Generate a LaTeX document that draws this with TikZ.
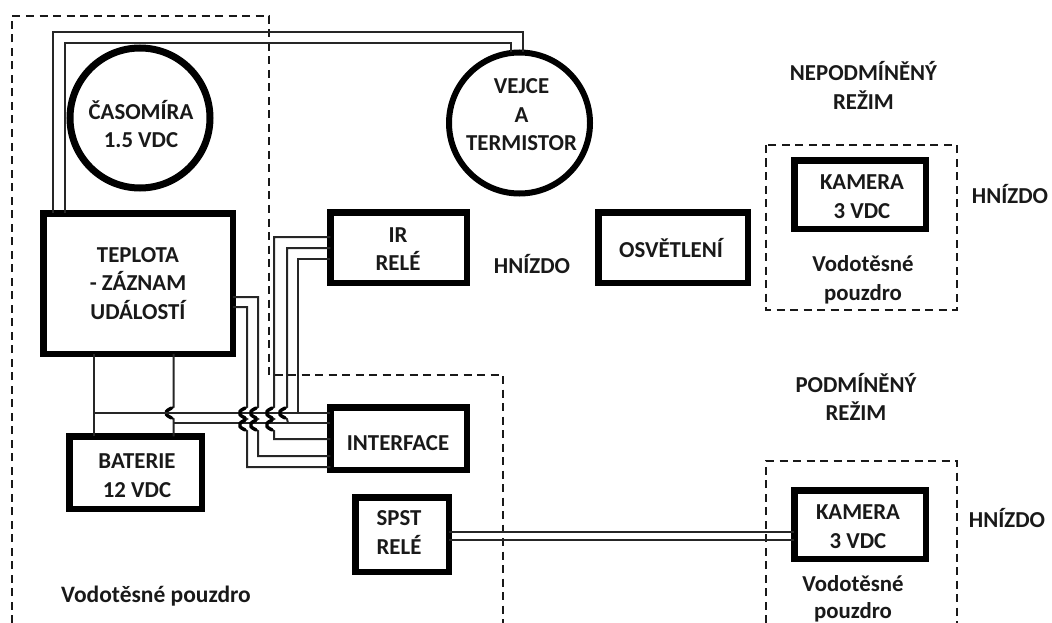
\documentclass[tikz,border=0pt]{standalone}
\usepackage{fontspec}
\setmainfont{Carlito}
\newcommand{\wirehop}[2]{.. controls (#1-1,#2-4) and (#1-9,#2-4) .. (#1-7,#2) .. controls (#1-9,#2+4) and (#1-1,#2+4) .. (#1,#2+6)}
\newcommand{\hopmark}[2]{\draw[hopthick] (#1-2,#2-5) .. controls (#1-4,#2-4) and (#1-8,#2-2) .. (#1-7,#2) .. controls (#1-8,#2+2) and (#1-4,#2+4) .. (#1-2,#2+5);}
\tikzset{
  lbl/.style={font=\fontsize{22.8}{28.5}\selectfont\bfseries,align=center,text=black!90,inner sep=0pt},
  boxn/.style={draw=black,line width=6.5pt,inner sep=0pt,outer sep=0pt,fill=none,lbl},
  circn/.style={circle,draw=black,line width=7pt,inner sep=0pt,outer sep=0pt,lbl},
  wire/.style={draw=black!85,line width=2pt,line join=miter},
  hopthick/.style={draw=black,line width=3.4pt,line cap=round},
  dashbox/.style={draw=black!90,line width=2.5pt,dash pattern=on 8pt off 5.5pt}
}
\begin{document}
\begin{tikzpicture}[x=1pt,y=-1pt]
\useasboundingbox (0,0) rectangle (1052,623);
\clip (0,0) rectangle (1052,623);
% dashed enclosures
\draw[dashbox] (12,623) -- (12,16) -- (269,16) -- (269,375) -- (503,375) -- (503,623);
\draw[dashbox] (766,145) rectangle (957,310);
\draw[dashbox] (766,623) -- (766,461) -- (957,461) -- (957,623);
% shapes
\node[circn,minimum size=140pt] (cas) at (140,118) {};
\node[circn,minimum size=141pt,line width=6pt] (vejce) at (519.5,123) {};
\node[boxn,minimum width=189.5pt,minimum height=140.5pt] (tep) at (138,283.5) {TEPLOTA\\- ZÁZNAM\\UDÁLOSTÍ};
\node[boxn,minimum width=132.5pt,minimum height=72.5pt] (bat) at (135.5,472.5) {};
\node[boxn,minimum width=136.5pt,minimum height=70.5pt] (ir) at (398.5,247.5) {};
\node[boxn,minimum width=136.5pt,minimum height=62.5pt] (int) at (398.5,438.5) {};
\node[boxn,minimum width=93.5pt,minimum height=74.5pt] (spst) at (402,534.5) {};
\node[boxn,minimum width=149.5pt,minimum height=70.5pt] (osv) at (673,247.5) {};
\node[boxn,minimum width=131.5pt,minimum height=68.5pt] (kam1) at (860,194.5) {};
\node[boxn,minimum width=131.5pt,minimum height=68.5pt] (kam2) at (860,524.5) {};
% labels
\node[lbl] (lcas) at (141,124) {ČASOMÍRA\\1.5 VDC};
\node[lbl] (lvejce) at (521.5,115) {VEJCE\\A\\TERMISTOR};
\node[lbl] (lbat) at (137,475.5) {BATERIE\\12 VDC};
\node[lbl] (lir) at (398,249) {IR\\RELÉ};
\node[lbl] (lint) at (398,443) {INTERFACE};
\node[lbl] (lspst) at (399,532.5) {SPST\\RELÉ};
\node[lbl] (losv) at (671,248) {OSVĚTLENÍ};
\node[lbl] (lkam1) at (862,196.5) {KAMERA\\3 VDC};
\node[lbl] (lkam2) at (858,526.5) {KAMERA\\3 VDC};
\node[lbl] (t1) at (863.5,85.5) {NEPODMÍNĚNÝ\\REŽIM};
\node[lbl] (t2) at (856,397) {PODMÍNĚNÝ\\REŽIM};
\node[lbl] (t3) at (532,264) {HNÍZDO};
\node[lbl] (t4) at (1010,194) {HNÍZDO};
\node[lbl] (t5) at (1007,518) {HNÍZDO};
\node[lbl] (t6) at (863,280) {Vodotěsné\\pouzdro};
\node[lbl,font=\fontsize{22.8}{27}\selectfont\bfseries] (t7) at (853,599) {Vodotěsné\\pouzdro};
\node[lbl,font=\fontsize{23.5}{28.5}\selectfont\bfseries] (t8) at (156,596) {Vodotěsné pouzdro};
% junction coordinates
\coordinate (a) at (53,32);
\coordinate (b) at (523,32);
\coordinate (c) at (64.5,43.5);
\coordinate (d) at (511,43.5);
% thermistor wires
\draw[wire] (tep.north -| a) -- (a) -- (b) -- (vejce.north -| b);
\draw[wire] (tep.north -| c) -- (c) -- (d) -- (d |- 0,52);
% battery wires
\coordinate (e) at (93.5,413);
\coordinate (f) at (173.5,423);
\draw[wire] (tep.south -| e) -- (bat.north -| e);
\draw[wire] (tep.south -| f) -- (173.5,407) \wirehop{173.5}{413} -- (bat.north -| f);
\hopmark{173.5}{413}
% two bus lines
\draw[wire] (e) -- (int.west |- e);
\draw[wire] (f) -- (int.west |- f);
% logger to interface
\coordinate (g) at (258,297);
\coordinate (h) at (247,307);
\coordinate (gb) at (258,456);
\coordinate (hb) at (247,467);
\draw[wire] (tep.east |- g) -- (g) -- (258,407) \wirehop{258}{413} \wirehop{258}{425} -- (gb) -- (int.west |- gb);
\draw[wire] (tep.east |- h) -- (h) -- (247,407) \wirehop{247}{413} \wirehop{247}{425} -- (hb) -- (int.west |- hb);
% IR relay to interface and bus
\coordinate (i) at (274,237);
\coordinate (ib) at (274,439);
\coordinate (j) at (287,248);
\coordinate (k) at (298,259);
\draw[wire] (ir.west |- i) -- (i) -- (274,407) \wirehop{274}{413} \wirehop{274}{425} -- (ib) -- (int.west |- ib);
\draw[wire] (ir.west |- j) -- (j) -- (287,407) \wirehop{287}{413} -- (288,423);
\draw[wire] (ir.west |- k) -- (k) -- (298,413);
\foreach \hx in {247,258,274} {\hopmark{\hx}{413}\hopmark{\hx}{425}}
\hopmark{287}{413}
% SPST to lower camera
\coordinate (m) at (0,531.5);
\coordinate (n) at (0,539.5);
\draw[wire] (spst.east |- m) -- (kam2.west |- m);
\draw[wire] (spst.east |- n) -- (kam2.west |- n);
\end{tikzpicture}
\end{document}
